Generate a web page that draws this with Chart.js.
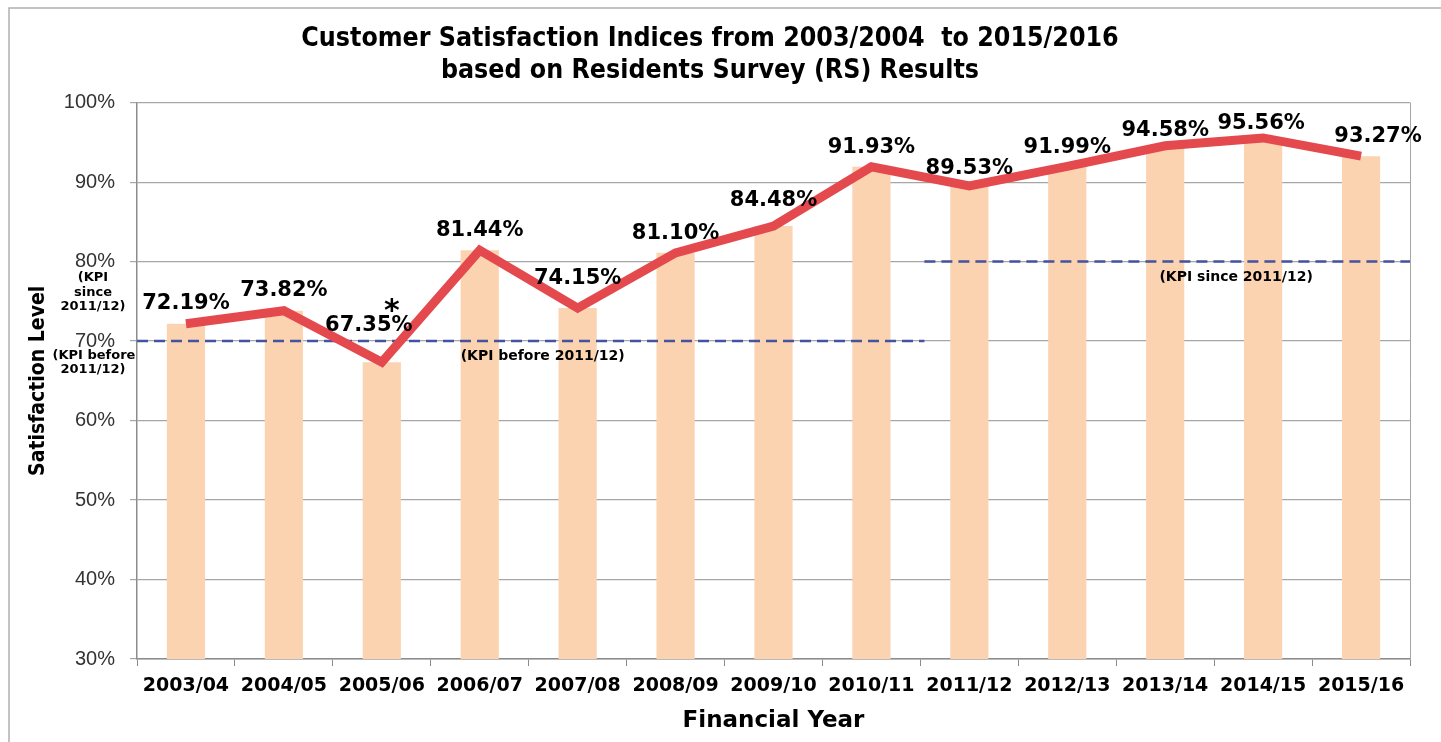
<!DOCTYPE html>
<html lang="en">
<head>
    <meta charset="UTF-8">
    <title>Customer Satisfaction Indices</title>
    <script src="https://cdn.jsdelivr.net/npm/chart.js"></script>
    <style>
        html, body { margin: 0; padding: 0; background: #ffffff; }
        #wrap { width: 1441px; height: 742px; }
    </style>
</head>
<body>
    <div id="wrap"><canvas id="csi" width="1441" height="742"></canvas></div>

    <script>
        // datos del gráfico
        const years = ['2003/04', '2004/05', '2005/06', '2006/07', '2007/08', '2008/09', '2009/10',
                       '2010/11', '2011/12', '2012/13', '2013/14', '2014/15', '2015/16'];
        const satisfaction = [72.19, 73.82, 67.35, 81.44, 74.15, 81.10, 84.48, 91.93, 89.53, 91.99, 94.58, 95.56, 93.27];
        const yTicks = [30, 40, 50, 60, 70, 80, 90, 100];
        const kpiBefore = 70;   // KPI antes de 2011/12
        const kpiSince = 80;    // KPI desde 2011/12
        const kpiSwitchIndex = 8; // 2011/12

        // desplazamiento de las etiquetas respecto al punto
        const labelNudge = [[0, -20], [0, -20], [-13, -37], [0, -20], [0, -30], [0, -19], [0, -25],
                            [0, -19], [0, -17], [0, -19], [0, -15], [-2, -14], [17, -20]];

        const boldWide = 'bold 21px "DejaVu Sans", Verdana, sans-serif';
        const noteFont = 'bold 14px "DejaVu Sans", Verdana, sans-serif';
        const smallNote = 'bold 13px "DejaVu Sans", Verdana, sans-serif';

        // líneas KPI (discontinuas) dibujadas justo después de las barras
        const kpiLines = {
            id: 'kpiLines',
            afterDatasetDraw(chart, args) {
                if (args.index !== 0) return;
                const { ctx, chartArea, scales: { x, y } } = chart;
                const half = (x.getPixelForValue(1) - x.getPixelForValue(0)) / 2;
                const xSwitch = x.getPixelForValue(kpiSwitchIndex) - half;
                ctx.save();
                ctx.strokeStyle = '#4353a0';
                ctx.lineWidth = 2.5;
                ctx.setLineDash([11, 6]);
                ctx.beginPath();
                ctx.moveTo(chartArea.left, y.getPixelForValue(kpiBefore));
                ctx.lineTo(xSwitch + 4, y.getPixelForValue(kpiBefore));
                ctx.moveTo(xSwitch + 4, y.getPixelForValue(kpiSince));
                ctx.lineTo(chartArea.right, y.getPixelForValue(kpiSince));
                ctx.stroke();
                ctx.restore();
            }
        };

        // etiquetas, notas y marco
        const annotations = {
            id: 'annotations',
            afterDatasetsDraw(chart) {
                const { ctx, chartArea, scales: { x, y } } = chart;
                const meta = chart.getDatasetMeta(1);
                ctx.save();

                // borde derecho del área de dibujo
                ctx.strokeStyle = '#a6a6a6';
                ctx.lineWidth = 1;
                ctx.beginPath();
                ctx.moveTo(Math.round(chartArea.right) + 0.5, chartArea.top);
                ctx.lineTo(Math.round(chartArea.right) + 0.5, chartArea.bottom);
                ctx.stroke();

                // marco exterior
                ctx.strokeStyle = '#b0b0b0';
                ctx.lineWidth = 1.5;
                ctx.strokeRect(9, 8, 1500, 800);

                // valores
                ctx.fillStyle = '#000000';
                ctx.font = boldWide;
                ctx.textAlign = 'center';
                ctx.textBaseline = 'middle';
                meta.data.forEach((pt, i) => {
                    const [dx, dy] = labelNudge[i];
                    ctx.fillText(satisfaction[i].toFixed(2) + '%', pt.x + dx, pt.y + dy);
                });

                // asterisco sobre 2005/06
                const star = meta.data[2];
                ctx.font = 'bold 30px "DejaVu Sans", sans-serif';
                ctx.fillText('*', star.x + 10, star.y - 50);

                // notas KPI
                ctx.font = noteFont;
                ctx.fillText('(KPI before 2011/12)', x.getPixelForValue(4) - 35, y.getPixelForValue(kpiBefore) + 15);
                ctx.fillText('(KPI since 2011/12)', x.getPixelForValue(11) - 27, y.getPixelForValue(kpiSince) + 16);

                // notas junto al eje Y
                const nx = 93;
                ctx.font = smallNote;
                const y80 = y.getPixelForValue(kpiSince);
                ctx.fillText('(KPI', nx, y80 + 16);
                ctx.fillText('since', nx, y80 + 31);
                ctx.fillText('2011/12)', nx, y80 + 45);
                const y70 = y.getPixelForValue(kpiBefore);
                ctx.fillText('(KPI before', nx + 1, y70 + 15);
                ctx.fillText('2011/12)', nx, y70 + 29);

                ctx.restore();
            }
        };

        new Chart(document.getElementById('csi'), {
            data: {
                labels: years,
                datasets: [
                    {
                        type: 'bar',
                        data: satisfaction,
                        backgroundColor: '#fbd3b1',
                        borderWidth: 0,
                        barPercentage: 0.39,
                        categoryPercentage: 1,
                        order: 1
                    },
                    {
                        type: 'line',
                        data: satisfaction,
                        borderColor: '#e4494d',
                        borderWidth: 9,
                        pointRadius: 0,
                        tension: 0,
                        fill: false,
                        borderCapStyle: 'butt',
                        order: 0
                    }
                ]
            },
            options: {
                responsive: false,
                animation: false,
                layout: { padding: { left: 10, right: 31, top: 0, bottom: 0 } },
                plugins: {
                    legend: { display: false },
                    tooltip: { enabled: false },
                    title: {
                        display: true,
                        text: ['Customer Satisfaction Indices from 2003/2004  to 2015/2016',
                               'based on Residents Survey (RS) Results'],
                        color: '#000000',
                        font: { family: '"Liberation Sans Narrow", "DejaVu Sans Condensed", sans-serif', size: 26.5, weight: 'bold', lineHeight: 1.22 },
                        padding: { top: 23, bottom: 15 }
                    }
                },
                scales: {
                    x: {
                        grid: {
                            offset: true,
                            drawOnChartArea: false,
                            drawTicks: true,
                            tickLength: 7,
                            color: '#8c8c8c'
                        },
                        border: { color: '#8c8c8c', width: 1.5 },
                        ticks: {
                            color: '#000000',
                            font: { family: '"DejaVu Sans", Verdana, sans-serif', size: 19, weight: 'bold' },
                            padding: 9,
                            maxRotation: 0,
                            autoSkip: false
                        },
                        title: {
                            display: true,
                            text: 'Financial Year',
                            color: '#000000',
                            font: { family: '"DejaVu Sans", Verdana, sans-serif', size: 23, weight: 'bold' },
                            padding: { top: 4, bottom: 7 }
                        },
                        afterFit(scale) { scale.height = 83; }
                    },
                    y: {
                        min: 30,
                        max: 100,
                        afterBuildTicks(scale) { scale.ticks = yTicks.map(v => ({ value: v })); },
                        grid: {
                            color: '#a6a6a6',
                            tickLength: 7,
                            lineWidth: 1.2
                        },
                        border: { color: '#8c8c8c', width: 1.5 },
                        ticks: {
                            color: '#333333',
                            font: { family: '"Liberation Sans", Arial, sans-serif', size: 20 },
                            padding: 15,
                            callback: v => v + '%'
                        },
                        title: {
                            display: true,
                            text: 'Satisfaction Level',
                            color: '#000000',
                            font: { family: '"Liberation Sans Narrow", "DejaVu Sans Condensed", sans-serif', size: 21, weight: 'bold' },
                            padding: { top: 16, bottom: 0 }
                        },
                        afterFit(scale) { scale.width = 127; }
                    }
                }
            },
            plugins: [kpiLines, annotations]
        });
    </script>
</body>
</html>
